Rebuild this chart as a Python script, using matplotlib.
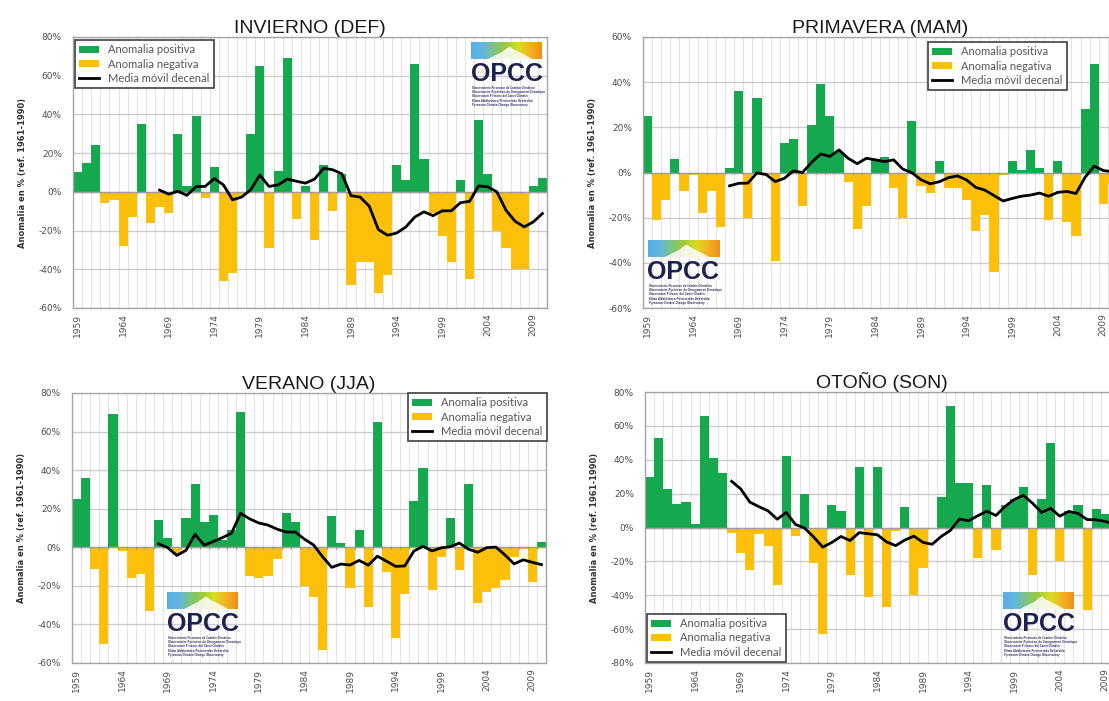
import numpy as np
import matplotlib
matplotlib.use("Agg")
import matplotlib.pyplot as plt
import pandas as pd
from matplotlib.colors import LinearSegmentedColormap
from matplotlib.patches import Polygon, Patch
from matplotlib.lines import Line2D

# ---------------- data ----------------
years = list(range(1959, 2011))

invierno = [10, 15, 24, -6, -4, -28, -13, 35, -16, -8,
            -11, 30, 3, 39, -3, 13, -46, -42, -2, 30,
            65, -29, 11, 69, -14, 3, -25, 14, -10, 9,
            -48, -36, -36, -52, -43, 14, 6, 66, 17, -11,
            -23, -36, 6, -45, 37, 9, -20, -29, -40, -40,
            3, 7]

primavera = [25, -21, -12, 6, -8, -1, -18, -8, -24, 2,
             36, -20, 33, -1, -39, 13, 15, -15, 21, 39,
             25, 9, -4, -25, -15, 6, 7, -7, -20, 23,
             -6, -9, 5, -7, -7, -12, -26, -19, -44, -1,
             5, 1, 10, 2, -21, 5, -22, -28, 28, 48,
             -14, -5]

verano = [25, 36, -11, -50, 69, -2, -16, -14, -33, 14,
          5, -4, 15, 33, 13, 17, 4, 9, 70, -15,
          -16, -15, -6, 18, 13, -20, -26, -53, 16, 2,
          -21, 9, -31, 65, -13, -47, -24, 24, 41, -22,
          -5, 15, -12, 33, -29, -23, -21, -17, -5, -1,
          -18, 3]

otono = [30, 53, 23, 14, 15, 2, 66, 41, 32, -3,
         -15, -25, -4, -11, -34, 42, -5, 20, -21, -63,
         13, 10, -28, 36, -41, 36, -47, -2, 12, -40,
         -24, -1, 18, 72, 26, 26, -18, 25, -13, 13,
         17, 24, -28, 17, 50, -20, 10, 13, -49, 11,
         8, 5]

titles = ["INVIERNO (DEF)", "PRIMAVERA (MAM)", "VERANO (JJA)", "OTOÑO (SON)"]
series = [invierno, primavera, verano, otono]
ylims = [(-60, 80), (-60, 60), (-60, 80), (-80, 80)]
tick_years = list(range(1959, 2011, 5))
legend_labels = ["Anomalia positiva", "Anomalia negativa", "Media móvil decenal"]
ylabel_text = "Anomalia en % (ref. 1961-1990)"
logo_lines = ["Observatorio Pirenaico de Cambio Climático",
              "Observatoire Pyrénéen du Changement Climatique",
              "Observatori Pirinenc del Canvi Climàtic",
              "Klima Aldaketaren Pirinioetako Behatokia",
              "Pyrenean Climate Change Observatory"]

# ---------------- style ----------------
W, H = 1109, 701
GREEN = "#16a84f"
YELLOW = "#fcbf0a"
GRID_MAJ = "#cccccc"
GRID_MIN = "#e4e4e4"
SPINE = "#a6a6a6"
TXT = "#4d4d4d"

fig = plt.figure(figsize=(W / 100, H / 100), dpi=100)
fig.patch.set_facecolor("white")

# pixel boxes (left, top, right, bottom)
boxes = [(73, 37, 547, 308), (643, 37, 1117, 308),
         (72, 393, 546, 663), (645, 392, 1119, 663)]
# legend anchors (pixel x, pixel y, loc)
leg_anchor = [(75, 40, "upper left"), (1067, 42, "upper right"),
              (547, 393, "upper right"), (647, 662, "lower left")]
# logo top-left pixel positions
logo_pos = [(471, 42), (648, 240), (167, 592), (1003, 592)]

logo_cmap = LinearSegmentedColormap.from_list(
    "opcc", ["#55aee8", "#62b6de", "#7fc47a", "#9ccb3b", "#d9dc25", "#f4b320", "#f08d1e"])


def px_rect(l, t, r, b):
    return [l / W, 1 - b / H, (r - l) / W, (b - t) / H]


def add_logo(x0, y0, w=71):
    gh = 17
    lax = fig.add_axes(px_rect(x0, y0, x0 + w, y0 + gh))
    grad = np.linspace(0, 1, 200)[None, :]
    lax.imshow(grad, aspect="auto", cmap=logo_cmap, extent=(0, 1, 0, 1))
    mountain = Polygon([(0.24, 0), (0.36, 0.26), (0.44, 0.42), (0.50, 0.62),
                        (0.55, 0.74), (0.59, 0.60), (0.66, 0.44), (0.76, 0.24),
                        (0.86, 0)], closed=True, facecolor="white", edgecolor="none", alpha=0.85)
    lax.add_patch(mountain)
    lax.set_xlim(0, 1)
    lax.set_ylim(0, 1)
    lax.axis("off")
    fig.text((x0 + w / 2) / W, 1 - (y0 + gh + 15) / H, "OPCC", ha="center", va="center",
             fontsize=18, fontweight="bold", color="#1d2150", family="Liberation Sans")
    for k, line in enumerate(logo_lines):
        fig.text((x0 + 1) / W, 1 - (y0 + gh + 29 + k * 4.2) / H, line, ha="left", va="center",
                 fontsize=1.85, fontweight="bold", color="#3c4070", family="DejaVu Sans")


for idx, (vals, title, ylim, box) in enumerate(zip(series, titles, ylims, boxes)):
    ax = fig.add_axes(px_rect(*box))
    yrs = np.array(years)
    v = np.array(vals, dtype=float)
    pos = v >= 0
    ax.bar(yrs[pos], v[pos], width=1.0, color=GREEN, linewidth=0, zorder=2)
    ax.bar(yrs[~pos], v[~pos], width=1.0, color=YELLOW, linewidth=0, zorder=2)
    ma = pd.Series(v).rolling(10).mean()
    ax.plot(yrs, ma, color="black", lw=2.0, zorder=4, solid_joinstyle="round")

    ax.set_xlim(years[0] - 0.5, years[-1] + 0.5)
    ax.set_ylim(*ylim)
    ax.set_yticks(np.arange(ylim[0], ylim[1] + 1, 20))
    ax.yaxis.set_major_formatter(lambda val, p: f"{int(val)}%")
    ax.set_xticks(tick_years)
    ax.set_xticklabels([str(y) for y in tick_years], rotation=90)
    ax.set_xticks(np.arange(years[0] - 0.5, years[-1] + 1.0, 1.0), minor=True)
    ax.grid(axis="y", which="major", color=GRID_MAJ, lw=1.0, zorder=0)
    ax.grid(axis="x", which="minor", color=GRID_MIN, lw=0.8, zorder=0)
    ax.grid(axis="x", which="major", visible=False)
    ax.set_axisbelow(True)
    ax.axhline(0, color="#a0a0a0", lw=1.0, zorder=3)
    ax.vlines(np.arange(years[0] - 0.5, years[-1] + 1.0, 1.0), -(ylim[1] - ylim[0]) * 0.006, 0,
              color="#909090", lw=0.8, zorder=3)

    ax.tick_params(axis="both", which="both", length=0, colors=TXT)
    ax.tick_params(axis="y", labelsize=6.5, pad=8)
    ax.tick_params(axis="x", labelsize=6.5, pad=4)
    for s in ax.spines.values():
        s.set_color(SPINE)
        s.set_linewidth(1.0)

    ax.set_title(title, fontsize=14, family="Liberation Sans", color="#1a1a1a", pad=3)
    ax.set_ylabel(ylabel_text, fontsize=6, fontweight="bold", color="#333333")
    ax.yaxis.set_label_coords(-0.098, 0.5)

    handles = [Patch(facecolor=GREEN, edgecolor="none"),
               Patch(facecolor=YELLOW, edgecolor="none"),
               Line2D([0], [0], color="black", lw=2)]
    lx, ly, loc = leg_anchor[idx]
    leg = ax.legend(handles, legend_labels, loc=loc,
                    bbox_to_anchor=(lx / W, 1 - ly / H), bbox_transform=fig.transFigure,
                    borderaxespad=0, fancybox=False, framealpha=1, edgecolor="#404040",
                    prop={"family": "Lato", "size": 8}, labelcolor="#555555",
                    handlelength=1.8, handleheight=0.6, labelspacing=0.28,
                    borderpad=0.4, handletextpad=0.8)
    leg.get_frame().set_linewidth(1.2)
    leg.set_zorder(6)

for (lx, ly) in logo_pos:
    add_logo(lx, ly)

fig.savefig("out.png", dpi=100, facecolor="white")
